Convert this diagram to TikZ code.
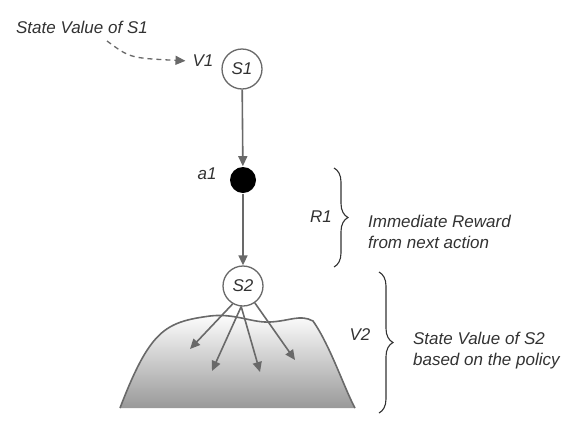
\documentclass[tikz,border=0pt]{standalone}
\usepackage{fontspec}
\setmainfont{Liberation Sans}
\usetikzlibrary{arrows.meta,decorations.pathreplacing}
\definecolor{linegray}{RGB}{105,105,105}
\definecolor{textgray}{RGB}{50,50,50}

\begin{document}
\begin{tikzpicture}[x=1pt, y=-1pt, line width=1.6pt,
    font=\fontsize{17}{21}\selectfont\itshape, text=textgray,
    state/.style={circle, draw=linegray, line width=1.3pt, fill=white, minimum size=40pt, inner sep=0pt},
    action/.style={circle, fill=black, minimum size=26pt, inner sep=0pt},
    conn/.style={draw=linegray, -{Triangle[length=10pt,width=9pt]}},
    bracket/.style={draw=textgray, line width=1.1pt, decorate,
      decoration={brace, amplitude=14pt, aspect=0.5}}]
        \useasboundingbox (0,0) rectangle (575,421);

        % Mound of successor states
        \shade[top color=white, bottom color=gray!80]
          (120,408) .. controls (150,330) and (165,322) .. (210,316)
          .. controls (235,313) and (252,323) .. (270,322)
          .. controls (290,321) and (300,314) .. (313,321)
          .. controls (330,345) and (345,390) .. (355,408) -- cycle;
        \draw[linegray]
          (120,408) .. controls (150,330) and (165,322) .. (210,316)
          .. controls (235,313) and (252,323) .. (270,322)
          .. controls (290,321) and (300,314) .. (313,321)
          .. controls (330,345) and (345,390) .. (355,408);

        % States and action
        \node[state] (S1) at (242,69) {S1};
        \node[action] (a1) at (243,180) {};
        \node[state] (S2) at (243,286) {S2};

        % Labels
        \node[anchor=west] (sv1) at (12,27) {State Value of S1};
        \node (V1) at (203,61) {V1};
        \node (a1lab) at (207,174) {a1};
        \node (R1) at (321,217) {R1};
        \node[anchor=west, align=left] (rtext) at (364,232)
          {Immediate Reward\\from next action};
        \node (V2) at (360,335) {V2};
        \node[anchor=west, align=left] (sv2) at (409,351)
          {State Value of S2\\based on the policy};

        % Transitions
        \draw[conn] (S1) -- (a1);
        \draw[conn] (a1) -- (S2);

        % Successor arrows
        \coordinate (e1) at (190,349);
        \coordinate (e2) at (212,371);
        \coordinate (e3) at (260,372);
        \coordinate (e4) at (295,360);
        \draw[conn] (S2.240) -- (e1);
        \draw[conn] (S2.265) -- (e2);
        \draw[conn] (S2.265) -- (e3);
        \draw[conn] (S2.305) -- (e4);

        % Dashed pointer to V1
        \coordinate (d0) at (107,41);
        \draw[conn, line width=1.3pt, dash pattern=on 5pt off 4pt, shorten >=3pt]
          (d0) .. controls (130,58) .. (V1.west);

        % Braces
        \draw[bracket] (334,168) -- (334,267);
        \draw[bracket] (379,272) -- (379,413);
      \end{tikzpicture}
\end{document}
